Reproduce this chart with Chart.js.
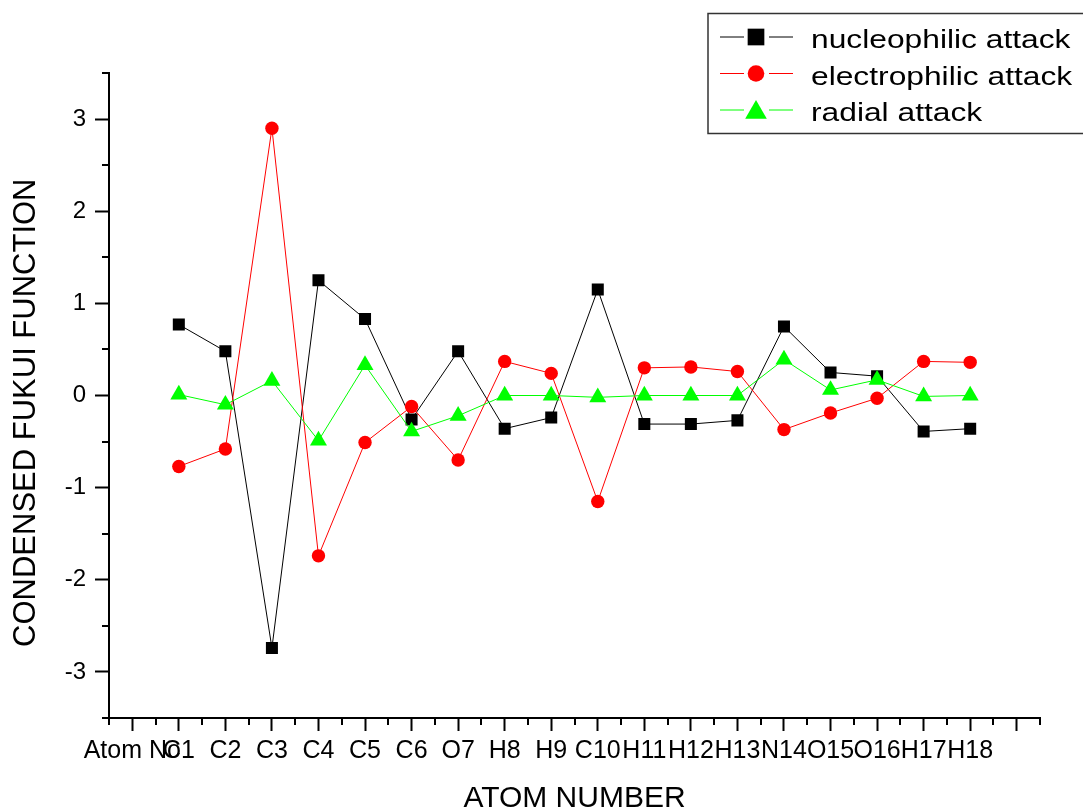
<!DOCTYPE html>
<html>
<head>
<meta charset="utf-8">
<script src="https://cdn.jsdelivr.net/npm/chart.js@4.4.1/dist/chart.umd.min.js"></script>
<style>
html,body{margin:0;padding:0;background:#ffffff;}
#wrap{width:1083px;height:812px;position:relative;overflow:hidden;}
canvas{display:block;}
</style>
</head>
<body>
<div id="wrap"><canvas id="c" width="1083" height="812"></canvas></div>
<script>
// ---- data ----
const atomLabels = ['Atom No','C1','C2','C3','C4','C5','C6','O7','H8','H9','C10','H11','H12','H13','N14','O15','O16','H17','H18',''];
const seriesNames = ['nucleophilic attack','electrophilic attack','radial attack'];
const nucleophilic = [null, 0.77, 0.48, -2.74, 1.25, 0.83, -0.26, 0.48, -0.36, -0.24, 1.15, -0.31, -0.31, -0.27, 0.75, 0.25, 0.21, -0.39, -0.36, null];
const electrophilic = [null, -0.77, -0.58, 2.90, -1.74, -0.51, -0.12, -0.70, 0.37, 0.24, -1.15, 0.30, 0.31, 0.26, -0.37, -0.19, -0.03, 0.37, 0.36, null];
const radial = [null, 0.01, -0.10, 0.16, -0.49, 0.33, -0.39, -0.22, 0.00, 0.00, -0.02, 0.00, 0.00, 0.00, 0.39, 0.06, 0.17, -0.01, 0.00, null];
const yTickLabels = [-3, -2, -1, 0, 1, 2, 3];

const FONT = "'Liberation Sans', Arial, Helvetica, sans-serif";

// minor ticks plugin (uses the chart's own scales)
const minorTicks = {
  id: 'minorTicks',
  afterDraw(chart) {
    const ctx = chart.ctx;
    const xs = chart.scales.x, ys = chart.scales.y;
    ctx.save();
    ctx.strokeStyle = '#000';
    ctx.lineWidth = 2;
    ctx.beginPath();
    for (let i = 0; i <= atomLabels.length; i++) {
      const px = Math.round(xs.getPixelForValue(i - 0.5));
      ctx.moveTo(px, xs.top);
      ctx.lineTo(px, xs.top + 7);
    }
    for (let v = -3.5; v <= 3.5; v += 1) {
      const py = Math.round(ys.getPixelForValue(v));
      ctx.moveTo(ys.right - 7, py);
      ctx.lineTo(ys.right, py);
    }
    ctx.stroke();
    ctx.restore();
  }
};

// boxed legend with line-marker-line samples
const boxLegend = {
  id: 'boxLegend',
  afterDraw(chart) {
    const ctx = chart.ctx;
    ctx.save();
    ctx.strokeStyle = '#333';
    ctx.lineWidth = 1.5;
    ctx.strokeRect(708, 13.5, 400, 120);
    const rowsY = [37, 73.5, 110];
    const legendRadius = [11.8, 8.3, 12.5];
    chart.data.datasets.forEach((ds, i) => {
      const y = rowsY[i];
      ctx.strokeStyle = ds.borderColor;
      ctx.lineWidth = 1;
      ctx.beginPath();
      ctx.moveTo(720, y); ctx.lineTo(744, y);
      ctx.moveTo(769, y); ctx.lineTo(793, y);
      ctx.stroke();
      ctx.fillStyle = ds.pointBackgroundColor;
      ctx.strokeStyle = ds.pointBorderColor;
      Chart.helpers.drawPoint(ctx, {pointStyle: ds.pointStyle, radius: legendRadius[i], rotation: 0, borderWidth: 0}, 756, ds.pointStyle === 'triangle' ? y + 2.5 : y);
      ctx.save();
      ctx.fillStyle = '#000';
      ctx.font = '25px ' + FONT;
      ctx.textBaseline = 'alphabetic';
      ctx.textAlign = 'left';
      ctx.translate(811, y + 11);
      ctx.scale(1.27, 1);
      ctx.fillText(ds.label, 0, 0);
      ctx.restore();
    });
    ctx.restore();
  }
};

const mk = (label, data, color, style, radius, order) => ({
  label, data,
  borderColor: color,
  backgroundColor: color,
  pointBackgroundColor: color,
  pointBorderColor: color,
  pointBorderWidth: 0,
  borderWidth: 1,
  pointStyle: style,
  pointRadius: radius,
  pointHoverRadius: radius,
  tension: 0,
  spanGaps: false,
  order
});

new Chart(document.getElementById('c'), {
  type: 'line',
  data: {
    labels: atomLabels,
    datasets: [
      mk(seriesNames[0], nucleophilic, '#000000', 'rect', 8.5, 3),
      mk(seriesNames[1], electrophilic, '#ff0000', 'circle', 6.7, 2),
      mk(seriesNames[2], radial, '#00ff00', 'triangle', 9.8, 1)
    ]
  },
  options: {
    responsive: false,
    animation: false,
    devicePixelRatio: 1,
    layout: { padding: { top: 73, right: 43, left: 0, bottom: 0 } },
    plugins: { legend: { display: false }, tooltip: { enabled: false } },
    scales: {
      x: {
        type: 'category',
        offset: true,
        afterFit(s) { s.height = 94; },
        grid: { offset: false, drawOnChartArea: false, drawTicks: true, tickLength: 13, tickWidth: 2, tickColor: '#000' },
        border: { color: '#000', width: 2 },
        ticks: { autoSkip: false, maxRotation: 0, minRotation: 0, padding: 5, color: '#000', font: { family: FONT, size: 25 } },
        title: { display: true, text: 'ATOM NUMBER', color: '#000', font: { family: FONT, size: 30 }, padding: { top: 0, bottom: -5 } }
      },
      y: {
        type: 'linear',
        min: -3.5, max: 3.5,
        afterFit(s) { s.width = 109; },
        grid: {
          drawOnChartArea: false, drawTicks: true, tickLength: 14, tickWidth: 2,
          tickColor: (c) => (yTickLabels.includes(c.tick && c.tick.value) ? '#000' : 'rgba(0,0,0,0)')
        },
        border: { color: '#000', width: 2 },
        ticks: {
          stepSize: 0.5, padding: 9, color: '#000', font: { family: FONT, size: 24 },
          callback: (v) => (yTickLabels.includes(v) ? String(v) : '')
        },
        title: { display: true, text: 'CONDENSED FUKUI FUNCTION    ', color: '#000', font: { family: FONT, size: 31 }, padding: { top: 8, bottom: 7 } }
      }
    }
  },
  plugins: [minorTicks, boxLegend]
});
</script>
</body>
</html>
